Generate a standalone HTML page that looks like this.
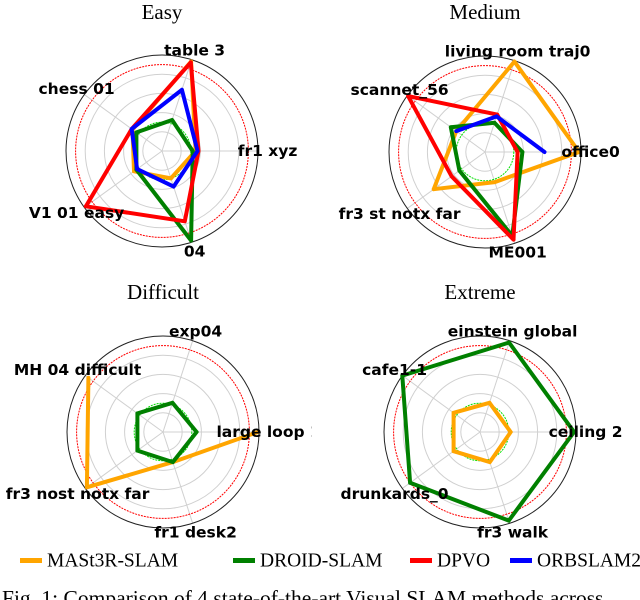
<!DOCTYPE html>
<html><head><meta charset="utf-8"><style>
body{margin:0;background:#fff;width:640px;height:600px;overflow:hidden}
svg{display:block}
</style></head><body>
<svg id="fig" width="640" height="600" xmlns="http://www.w3.org/2000/svg"></svg>
<script>
const seriesNames = ["MASt3R-SLAM","DROID-SLAM","DPVO","ORBSLAM2"];
const seriesColors = ["#ffa500","#008000","#ff0000","#0000ff"];
const chartTitles = ["Easy","Medium","Difficult","Extreme"];
const easyLabels = ["fr1 xyz","table 3","chess 01","V1 01 easy","04"];
const mediumLabels = ["office0","living room traj0","scannet_56","fr3 st notx far","ME001"];
const difficultLabels = ["large loop 1","exp04","MH 04 difficult","fr3 nost notx far","fr1 desk2"];
const extremeLabels = ["ceiling 2","einstein global","cafe1-1","drunkards_0","fr3 walk"];
// values per chart: [MASt3R, DROID, DPVO, ORBSLAM2]; null = missing
const easyMast3r = [0.35,0.98,0.38,0.36,0.3];
const easyDroid = [0.32,0.34,0.33,0.33,0.98];
const easyDpvo = [0.38,0.97,0.39,0.98,0.77];
const easyOrb = [0.37,0.67,0.39,0.32,0.39];
const mediumMast3r = [0.98,0.99,0.37,0.66,0.33];
const mediumDroid = [0.39,0.32,0.44,0.33,0.92];
const mediumDpvo = [0.34,0.41,0.99,0.43,0.96];
const mediumOrb = [0.62,0.39,0.37,null,null];
const difficultMast3r = [0.99,null,0.96,0.98,0.33];
const difficultDroid = [0.35,0.32,0.33,0.33,0.33];
const difficultDpvo = [null,null,null,null,null];
const difficultOrb = [null,null,null,null,null];
const extremeMast3r = [0.32,0.32,0.34,0.34,0.33];
const extremeDroid = [0.98,0.98,1.0,0.9,0.97];
const extremeDpvo = [null,null,null,null,null];
const extremeOrb = [null,null,null,null,null];

const NS="http://www.w3.org/2000/svg";
const fig=document.getElementById('fig');
function mk(tag,attrs,parent){const e=document.createElementNS(NS,tag);for(const k in attrs)e.setAttribute(k,attrs[k]);(parent||fig).appendChild(e);return e;}
const charts=[
 {cx:162,cy:151,ty:12,labels:easyLabels,data:[easyMast3r,easyDroid,easyDpvo,easyOrb]},
 {cx:485,cy:152,ty:12,labels:mediumLabels,data:[mediumMast3r,mediumDroid,mediumDpvo,mediumOrb]},
 {cx:163,cy:432,ty:292,labels:difficultLabels,data:[difficultMast3r,difficultDroid,difficultDpvo,difficultOrb],clip:312},
 {cx:480,cy:432,ty:292,labels:extremeLabels,data:[extremeMast3r,extremeDroid,extremeDpvo,extremeOrb]}
];
const R=96;
function pt(c,i,v){const a=i*2*Math.PI/5;return [c.cx+v*R*Math.cos(a),c.cy-v*R*Math.sin(a)];}
charts.forEach((c,ci)=>{
 const g=mk('g',{});
 
 
 const t=mk('text',{x:c.cx,y:c.ty,'text-anchor':'middle','dominant-baseline':'central','font-family':'Liberation Serif, serif','font-size':'21'},g);
 t.textContent=chartTitles[ci];
 
 
 [0.2,0.4,0.6,0.8].forEach(r=>{const e=mk('circle',{cx:c.cx,cy:c.cy,r:r*R,fill:'none',stroke:'#d0d0d0','stroke-width':1},g);
  
  });
 for(let i=0;i<5;i++){const p=pt(c,i,1);const e=mk('line',{x1:c.cx,y1:c.cy,x2:p[0],y2:p[1],stroke:'#d0d0d0','stroke-width':1},g);
  
  }
 const oc=mk('circle',{cx:c.cx,cy:c.cy,r:R,fill:'none',stroke:'#222','stroke-width':1},g);
 
 
 const rc=mk('circle',{cx:c.cx,cy:c.cy,r:0.9*R,fill:'none',stroke:'#ff0000','stroke-width':1,'stroke-dasharray':'2,1'},g);
 
 
 const gc=mk('circle',{cx:c.cx,cy:c.cy,r:0.3*R,fill:'none',stroke:'#00e000','stroke-width':1,'stroke-dasharray':'2,1'},g);
 
 
 c.data.forEach((vals,si)=>{
  let d='';
  for(let i=0;i<5;i++){const j=(i+1)%5;
   if(vals[i]==null||vals[j]==null)continue;
   const a=pt(c,i,vals[i]),b=pt(c,j,vals[j]);
   d+='M'+a[0].toFixed(1)+','+a[1].toFixed(1)+'L'+b[0].toFixed(1)+','+b[1].toFixed(1);}
  if(!d)return;
  const p=mk('path',{d:d,fill:'none',stroke:seriesColors[si],'stroke-width':4,'stroke-linejoin':'round','stroke-linecap':'round'},g);
  
  
 });
 let lg=g;
 if(c.clip){const cp=mk('clipPath',{id:'clip'+ci});mk('rect',{x:0,y:280,width:c.clip,height:270},cp);lg=mk('g',{'clip-path':'url(#clip'+ci+')'},g);}
 c.labels.forEach((l,i)=>{const p=pt(c,i,1.1);
  const e=mk('text',{x:p[0],y:p[1],'text-anchor':'middle','dominant-baseline':'central','font-family':'DejaVu Sans, sans-serif','font-weight':'bold','font-size':'15.5'},lg);
  e.textContent=l;
  
  });
});
const legX=[20,233,410,510];
const leg=mk('g',{});


seriesNames.forEach((n,i)=>{
 const r=mk('rect',{x:legX[i],y:558,width:22,height:5,fill:seriesColors[i]},leg);
 
 
 const t=mk('text',{x:legX[i]+27,y:561,'dominant-baseline':'central','font-family':'Liberation Serif, serif','font-size':'19.5'},leg);
 t.textContent=n;
 
 
});
const cap=mk('text',{x:2,y:605,'font-family':'Liberation Serif, serif','font-size':'21.5'});
cap.textContent='Fig. 1: Comparison of 4 state-of-the-art Visual SLAM methods across';


</script>
</body></html>
